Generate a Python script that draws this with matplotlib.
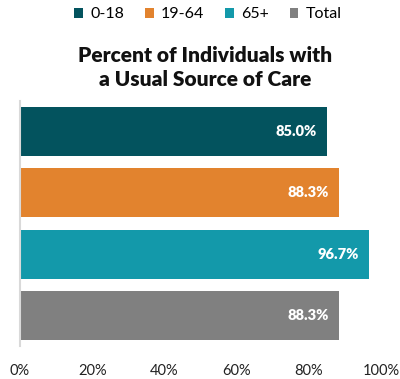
import matplotlib
matplotlib.use("Agg")
import matplotlib.pyplot as plt
from matplotlib.patches import Patch

categories = ["0-18", "19-64", "65+", "Total"]
values = [85.0, 88.3, 96.7, 88.3]
colors = ["#03535E", "#E2832E", "#1399AA", "#808080"]
xticks = [0, 20, 40, 60, 80, 100]
title = "Percent of Individuals with\na Usual Source of Care"

plt.rcParams['font.family'] = ['Lato', 'DejaVu Sans']

fig = plt.figure(figsize=(4.0, 3.79), dpi=100)
ax = fig.add_axes([0.05, 0.087, 0.9025, 0.6465])

ypos = list(range(len(categories)))
ax.barh(ypos, values, height=0.8, color=colors)
ax.set_ylim(len(categories) - 0.5, -0.5)
ax.set_xlim(0, 100)
ax.set_xticks(xticks)
ax.set_xticklabels([f"{t}%" for t in xticks], fontsize=10.5, color="#222222")
ax.tick_params(axis='x', length=0, pad=13)
ax.set_yticks([])
for s in ["top", "right", "bottom"]:
    ax.spines[s].set_visible(False)
ax.spines["left"].set_color("#D9D9D9")
ax.spines["left"].set_linewidth(1.5)

for y, v in zip(ypos, values):
    ax.annotate(f"{v:.1f}%", xy=(v, y), xytext=(-7, 0), textcoords="offset points",
                ha="right", va="center", color="white", fontweight="heavy", fontsize=10.5)

fig.text(0.512, 0.822, title, ha="center", va="center", fontsize=15, fontweight="heavy",
         color="#111111", linespacing=1.35)

handles = [Patch(facecolor=c, label=l) for c, l in zip(colors, categories)]
fig.legend(handles=handles, loc="center", bbox_to_anchor=(0.52, 0.962), ncol=4,
           frameon=False, fontsize=11.5, handlelength=0.55, handleheight=0.55,
           handletextpad=0.45, columnspacing=1.3)

fig.savefig("out.png", dpi=100)
